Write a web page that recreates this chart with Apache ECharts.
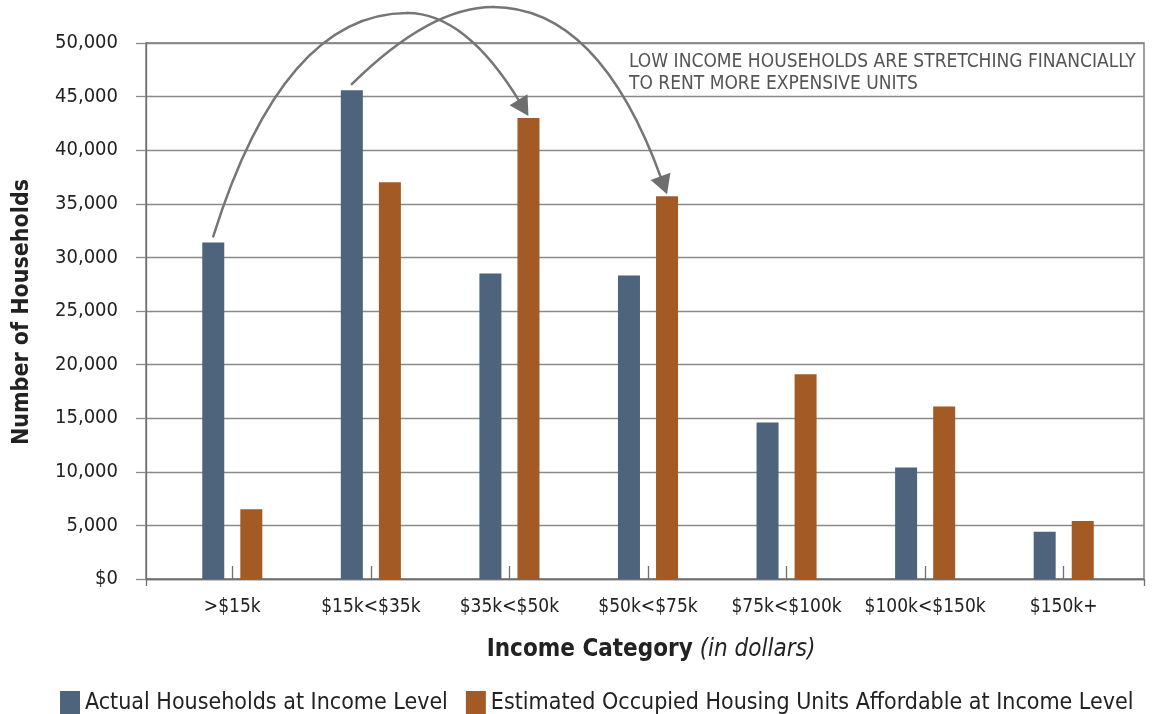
<!DOCTYPE html>
<html><head><meta charset="utf-8">
<script src="https://cdn.jsdelivr.net/npm/echarts@6/dist/echarts.min.js"></script>
<style>html,body{margin:0;padding:0;background:#fff}#c{width:1154px;height:714px}</style>
</head><body><div id="c"></div>
<script>
// ---- data ----
const categories = ['>$15k', '$15k<$35k', '$35k<$50k', '$50k<$75k', '$75k<$100k', '$100k<$150k', '$150k+'];
const actualHouseholds = [31400, 45600, 28500, 28300, 14600, 10400, 4400];
const affordableUnits = [6500, 37000, 43000, 35700, 19100, 16100, 5400];
const seriesNames = ['Actual Households at Income Level', 'Estimated Occupied Housing Units Affordable at Income Level'];
const yMin = 0, yMax = 50000, yInterval = 5000;
const yTitle = 'Number of Households';
const xTitleBold = 'Income Category';
const xTitleItalic = '(in dollars)';
const noteLines = ['LOW INCOME HOUSEHOLDS ARE STRETCHING FINANCIALLY', 'TO RENT MORE EXPENSIVE UNITS'];
// arrows: from [category, series] to [category, series]
const arrowLinks = [
  {from: [0, 0], to: [2, 1], c1: 0.222, peak: 0.616, c2: 0.80, peakAbove: 30},
  {from: [1, 0], to: [3, 1], c1: 0.248, peak: 0.448, c2: 0.784, peakAbove: 36}
];

// ---- style ----
const FONT = '"DejaVu Sans Condensed","Liberation Sans",sans-serif';
const BLUE = '#4E637C', ORANGE = '#A45A24', AXIS = '#6f6f6f', GRIDC = '#8a8a8a';
const GRID_TOP = 43, GRID_H = 536;

const chart = echarts.init(document.getElementById('c'), null, {renderer: 'canvas'});
const option = {
  animation: false,
  backgroundColor: '#fff',
  textStyle: {fontFamily: FONT},
  grid: [
    {left: 146, right: 10, top: GRID_TOP, height: GRID_H, show: true, borderColor: AXIS, borderWidth: 1.3, containLabel: false},
    {left: 163, right: 21, top: GRID_TOP, height: GRID_H, containLabel: false}
  ],
  xAxis: [
    {gridIndex: 0, type: 'value', min: 0, max: 1, interval: 1,
     axisLine: {show: true, lineStyle: {color: AXIS, width: 1.3}},
     axisTick: {show: true, length: 7, lineStyle: {color: AXIS, width: 1.3}},
     axisLabel: {show: false}, splitLine: {show: false}},
    {gridIndex: 1, type: 'category', data: categories, boundaryGap: true, offset: 7,
     axisLine: {show: false},
     axisTick: {show: true, alignWithLabel: true, inside: true, length: 13, lineStyle: {color: AXIS, width: 1.3}},
     axisLabel: {color: '#222', fontSize: 19, fontFamily: FONT, margin: 12, interval: 0}}
  ],
  yAxis: [
    {gridIndex: 0, type: 'value', min: yMin, max: yMax, interval: yInterval,
     axisLine: {show: true, lineStyle: {color: AXIS, width: 1.3}},
     axisTick: {show: true, length: 10, lineStyle: {color: GRIDC, width: 1.3}},
     splitLine: {show: true, lineStyle: {color: GRIDC, width: 1.3}},
     axisLabel: {color: '#222', fontSize: 20, fontFamily: FONT, margin: 28,
       formatter: v => v === 0 ? '$0' : v.toLocaleString('en-US')}},
    {gridIndex: 1, type: 'value', min: yMin, max: yMax, interval: yInterval, show: false}
  ],
  legend: {
    left: 55, top: 686, itemWidth: 20, itemHeight: 24, itemGap: 18,
    icon: 'rect',
    textStyle: {fontSize: 23, color: '#222', fontFamily: FONT},
    data: seriesNames
  },
  series: [
    {name: seriesNames[0], type: 'bar', xAxisIndex: 1, yAxisIndex: 1, data: actualHouseholds,
     barWidth: 22, barGap: '73%', itemStyle: {color: BLUE}},
    {name: seriesNames[1], type: 'bar', xAxisIndex: 1, yAxisIndex: 1, data: affordableUnits,
     barWidth: 22, barGap: '73%', itemStyle: {color: ORANGE}}
  ],
  graphic: [
    {type: 'text', id: 'ytitle', x: 22, y: 312, rotation: Math.PI / 2,
     style: {text: yTitle, fill: '#222', font: 'bold 23px ' + FONT, textAlign: 'center', textVerticalAlign: 'middle'}},
    {type: 'text', id: 'xtitle', x: 651, y: 650,
     style: {text: '{b|' + xTitleBold + '}{i| ' + xTitleItalic + '}', textAlign: 'center', textVerticalAlign: 'middle',
       rich: {b: {fontSize: 24, fontWeight: 'bold', fontFamily: FONT, fill: '#222', color: '#222'},
              i: {fontSize: 24, fontStyle: 'italic', fontFamily: FONT, fill: '#222', color: '#222'}}}},
    {type: 'text', id: 'note', x: 629, y: 51,
     style: {text: noteLines.join('\n'), fill: '#555', font: '19px ' + FONT, lineHeight: 22, textAlign: 'left', textVerticalAlign: 'top'}}
  ]
};
chart.setOption(option);

function barTop(cat, s) {
  const data = chart.getModel().getSeriesByIndex(s).getData();
  const l = data.getItemLayout(cat);
  return {x: l.x + l.width / 2, y: Math.min(l.y, l.y + l.height)};
}
const arrowGraphics = [];
const lineStyle = {stroke: '#757575', lineWidth: 2.5, fill: null, lineCap: 'round'};
arrowLinks.forEach((a, k) => {
  const s = barTop(a.from[0], a.from[1]);
  const t = barTop(a.to[0], a.to[1]);
  const S = {x: s.x, y: s.y - 6};
  const T = {x: t.x, y: t.y - 2};
  const span = T.x - S.x;
  const py = GRID_TOP - a.peakAbove;
  const C1 = {x: S.x + a.c1 * span, y: py};
  const P = {x: S.x + a.peak * span, y: py};
  const C2 = {x: S.x + a.c2 * span, y: py};
  let dx = T.x - C2.x, dy = T.y - C2.y; const len = Math.hypot(dx, dy); dx /= len; dy /= len;
  const head = 19, half = 10.5;
  const E = {x: T.x - dx * head, y: T.y - dy * head};
  arrowGraphics.push({type: 'bezierCurve', id: 'arcA' + k, z: 10,
    shape: {x1: S.x, y1: S.y, cpx1: C1.x, cpy1: C1.y, x2: P.x, y2: P.y},
    style: lineStyle});
  arrowGraphics.push({type: 'bezierCurve', id: 'arcB' + k, z: 10,
    shape: {x1: P.x, y1: P.y, cpx1: C2.x, cpy1: C2.y, x2: E.x + dx * 2, y2: E.y + dy * 2},
    style: lineStyle});
  arrowGraphics.push({type: 'polygon', id: 'head' + k, z: 10,
    shape: {points: [[T.x, T.y], [E.x - dy * half, E.y + dx * half], [E.x + dy * half, E.y - dx * half]]},
    style: {fill: '#6e6e6e'}});
});
chart.setOption({graphic: arrowGraphics});
</script></body></html>
